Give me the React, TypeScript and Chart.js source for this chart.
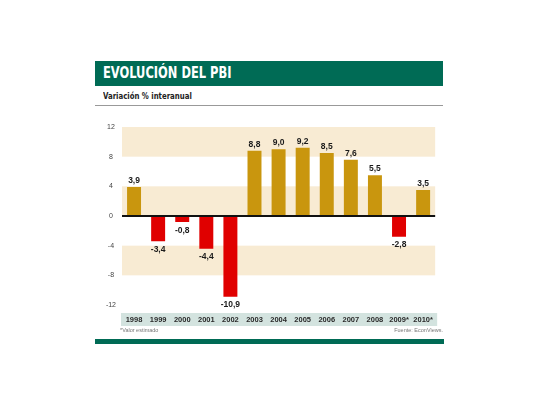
import React, { useEffect, useRef } from "react";
import { Chart, registerables } from "chart.js";

Chart.register(...registerables);

const years = ["1998", "1999", "2000", "2001", "2002", "2003", "2004", "2005", "2006", "2007", "2008", "2009*", "2010*"];
const growth = [3.9, -3.4, -0.8, -4.4, -10.9, 8.8, 9.0, 9.2, 8.5, 7.6, 5.5, -2.8, 3.5];
const yTicks = [-12, -8, -4, 0, 4, 8, 12];
const bands = [[8, 12], [0, 4], [-8, -4]];

const NARROW = "'DejaVu Sans Condensed', 'Liberation Sans Narrow', sans-serif";
const SANS = "'Liberation Sans', Arial, sans-serif";
const GREEN = "#006b55";
const GOLD = "#c9960e";
const RED = "#e00000";
const BAND = "#f8ebd3";
const STRIP = "#d3e3df";

const fmt = (v: number) => v.toFixed(1).replace(".", ",");

const decoPlugin = {
  id: "deco",
  beforeDraw(chart: any) {
    const { ctx, chartArea } = chart;
    ctx.save();
    ctx.fillStyle = STRIP;
    ctx.fillRect(chartArea.left - 1, chartArea.bottom + 8, chartArea.right - chartArea.left + 3, 13);
    ctx.restore();
  },
  beforeDatasetsDraw(chart: any) {
    const { ctx, chartArea, scales } = chart;
    const y = scales.y;
    ctx.save();
    ctx.fillStyle = BAND;
    bands.forEach(([a, b]) => {
      const p1 = y.getPixelForValue(b);
      const p2 = y.getPixelForValue(a);
      ctx.fillRect(chartArea.left, p1, chartArea.right - chartArea.left, p2 - p1);
    });
    ctx.restore();
  },
  afterDatasetsDraw(chart: any) {
    const { ctx, chartArea, scales } = chart;
    const y0 = scales.y.getPixelForValue(0);
    ctx.save();
    ctx.strokeStyle = "#111";
    ctx.lineWidth = 2;
    ctx.beginPath();
    ctx.moveTo(chartArea.left, y0);
    ctx.lineTo(chartArea.right, y0);
    ctx.stroke();
    const meta = chart.getDatasetMeta(0);
    ctx.fillStyle = "#1a1a1a";
    ctx.font = `bold 8.5px ${SANS}`;
    ctx.textAlign = "center";
    meta.data.forEach((bar: any, i: number) => {
      const v = growth[i];
      if (v >= 0) {
        ctx.textBaseline = "bottom";
        ctx.fillText(fmt(v), bar.x, bar.y - 2);
      } else {
        ctx.textBaseline = "top";
        ctx.fillText(fmt(v), bar.x, bar.y + 4);
      }
    });
    ctx.restore();
  },
};

function BarChart() {
  const ref = useRef<HTMLCanvasElement | null>(null);
  useEffect(() => {
    if (!ref.current) return;
    const chart = new Chart(ref.current, {
      type: "bar",
      data: {
        labels: years,
        datasets: [
          {
            data: growth,
            backgroundColor: growth.map((v) => (v >= 0 ? GOLD : RED)),
            categoryPercentage: 1,
            barPercentage: 0.58,
            borderWidth: 0,
          },
        ],
      },
      options: {
        animation: false,
        responsive: false,
        maintainAspectRatio: false,
        layout: { padding: { top: 17, right: 2, left: 0, bottom: 0 } },
        plugins: { legend: { display: false }, tooltip: { enabled: false } },
        scales: {
          x: {
            grid: { display: false, drawTicks: false },
            border: { display: false },
            ticks: {
              color: "#2a2a2a",
              font: { family: SANS, size: 7.5, weight: "bold" },
              padding: 10,
              maxRotation: 0,
              autoSkip: false,
            },
            afterFit: (s: any) => {
              s.height = 23;
            },
          },
          y: {
            min: -12,
            max: 12,
            afterBuildTicks: (s: any) => {
              s.ticks = yTicks.map((v) => ({ value: v }));
            },
            grid: { display: false, drawTicks: false },
            border: { display: false },
            ticks: {
              color: "#444",
              font: { family: SANS, size: 7 },
              padding: 6,
              crossAlign: "center",
            },
            afterFit: (s: any) => {
              s.width = 27;
            },
          },
        },
      },
      plugins: [decoPlugin],
    } as any);
    return () => chart.destroy();
  }, []);
  return (
    <canvas
      ref={ref}
      width={348}
      height={218}
      style={{ position: "absolute", left: 95, top: 110, width: 348, height: 218 }}
    />
  );
}

export default function App() {
  return (
    <div style={{ fontFamily: SANS }}>
      <div
        style={{
          position: "absolute",
          left: 95,
          top: 61,
          width: 348,
          height: 25,
          background: GREEN,
          overflow: "hidden",
        }}
      >
        <span
          style={{
            position: "absolute",
            left: 8,
            top: 0,
            lineHeight: "25px",
            color: "#fff",
            fontWeight: "bold",
            fontSize: 15,
            fontFamily: NARROW,
            whiteSpace: "nowrap",
            transform: "scaleX(0.85)",
            transformOrigin: "left center",
          }}
        >
          EVOLUCIÓN DEL PBI
        </span>
      </div>
      <div
        style={{
          position: "absolute",
          left: 103,
          top: 91,
          fontWeight: "bold",
          fontSize: 9,
          fontFamily: NARROW,
          color: "#222",
          whiteSpace: "nowrap",
          transform: "scaleX(0.86)",
          transformOrigin: "left center",
        }}
      >
        Variación % interanual
      </div>
      <div style={{ position: "absolute", left: 95, top: 105, width: 348, height: 1, background: "#999" }} />
      <BarChart />
      <div style={{ position: "absolute", left: 120, top: 327, fontSize: 5.5, color: "#777" }}>*Valor estimado</div>
      <div
        style={{ position: "absolute", left: 300, width: 143, textAlign: "right", top: 327, fontSize: 5.5, color: "#777" }}
      >
        Fuente: EconViews.
      </div>
      <div style={{ position: "absolute", left: 95, top: 339, width: 349, height: 5, background: GREEN }} />
    </div>
  );
}
